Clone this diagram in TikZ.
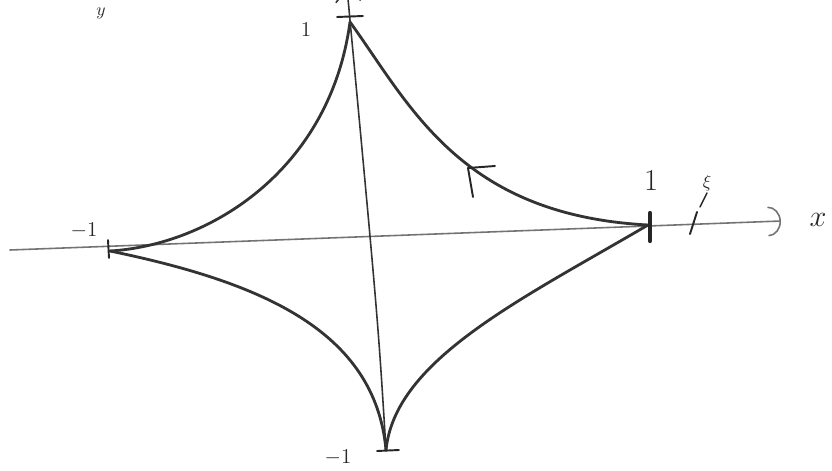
\documentclass[tikz,border=0pt]{standalone}
\usepackage{tikz}
\usetikzlibrary{arrows.meta}
\tikzset{
	astroidarc/.style={line width=1.6pt, draw=black!80, line cap=round},
	axisline/.style={line width=0.9pt, draw=black!55, line cap=round},
	tickmark/.style={line width=1.1pt, draw=black!85, line cap=round},
	handlbl/.style={inner sep=1pt, text=black!85},
}

\begin{document}
\begin{tikzpicture}[x=0.2mm, y=-0.2mm]
	\useasboundingbox (0,0) rectangle (832,471);

	% cusps of the curve
	\coordinate (cL) at (110,251);
	\coordinate (cT) at (350,22);
	\coordinate (cR) at (648,225);
	\coordinate (cB) at (386,450);

	% axes
	\coordinate (xstart) at (10,250);
	\coordinate (xend) at (781,221);
	\coordinate (yend) at (347,-12);
	\draw[axisline, -{Arc Barb[length=2.6mm, width=6mm]}] (xstart) -- (xend);
	\draw[line width=0.9pt, black!80, -{Straight Barb[length=2.5mm, width=5mm]}]
		(cB) .. controls (378,320) .. (yend);

	% the four arcs
	\draw[astroidarc] (cL) .. controls (210,245) and (330,170) .. (cT);
	\draw[astroidarc] (cT) .. controls (410,105) and (460,215) .. (cR);
	\draw[astroidarc] (cR) .. controls (520,300) and (395,360) .. (cB);
	\draw[astroidarc] (cB) .. controls (375,330) and (260,282) .. (cL);

	% ticks
	\draw[tickmark] (108,240) -- (109,258);
	\draw[line width=2.4pt, black!85, line cap=round] (650,213) -- (650,241);
	\draw[tickmark] (690,234) -- (697,212);
	\draw[tickmark] (337,17) -- (363,16);
	\draw[tickmark] (377,451) -- (399,450);

	% tangent mark on the upper right arc
	\coordinate (tp) at (468,168);
	\draw[tickmark] (tp) -- (495,166);
	\draw[tickmark] (tp) -- (473,197);

	% labels
	\node[handlbl, font=\LARGE] (lblone) at (651,181) {$1$};
	\node[handlbl, font=\large] (lblmone) at (84,231) {$-1$};
	\node[handlbl, font=\large] (lbltop) at (306,30) {$1$};
	\node[handlbl, font=\large] (lblbot) at (338,458) {$-1$};
	\node[handlbl, font=\LARGE] (lblx) at (818,220) {$x$};
	\node[handlbl] (lbly) at (101,13) {$y$};
	\node[handlbl] (lblxi) at (707,183) {$\xi$};
	\draw[tickmark, line width=0.8pt] (700,207) -- (lblxi.south);
\end{tikzpicture}
\end{document}
